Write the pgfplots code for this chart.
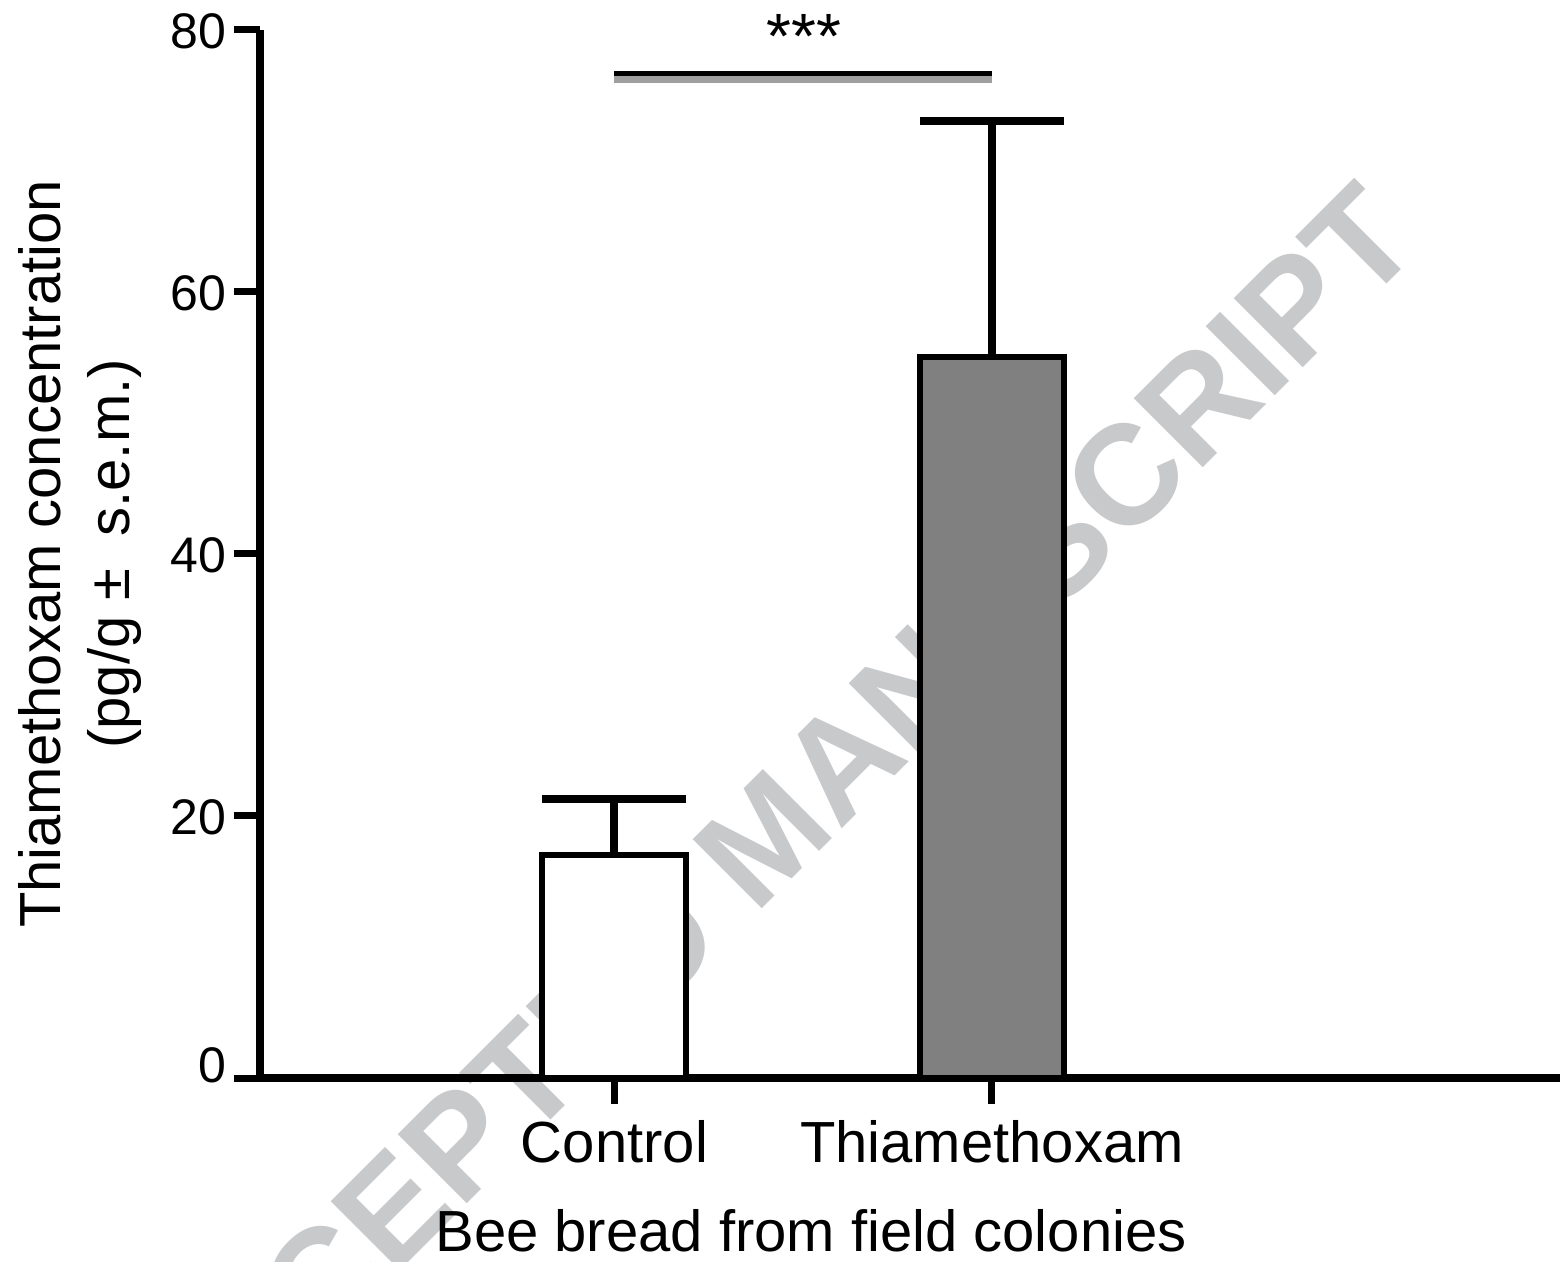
\documentclass[border=0pt]{standalone}
\usepackage{fontspec}
\setmainfont{Liberation Sans}
\usepackage{pgfplots}
\pgfplotsset{compat=1.18}

\definecolor{wmgray}{RGB}{200,201,203}
\definecolor{barfill}{RGB}{128,128,128}

\begin{document}
\begin{tikzpicture}
% watermark, behind everything
\node[rotate=45, inner sep=0pt, text=wmgray,
      font=\fontsize{35.5}{36}\selectfont\bfseries]
  at (126.5pt,60.5pt) {ACCEPTED MANUSCRIPT};

\begin{axis}[
  at={(0pt,0pt)}, anchor=south west,
  width=325pt, height=262pt, scale only axis,
  xmin=-0.939, xmax=2.505, ymin=0, ymax=80,
  clip=false,
  axis x line*=bottom, axis y line*=left,
  axis line style={-, line width=2pt, black},
  tick align=outside,
  major tick length=6.5pt,
  tick style={line width=1.75pt, black},
  xtick={0,1}, xticklabels={Control,Thiamethoxam},
  ytick={0,20,40,60,80},
  yticklabels={\raisebox{3.75pt}{0},20,40,60,80},
  xticklabel style={anchor=base, inner sep=0pt, yshift=-14.5pt,
                    font=\fontsize{14.5}{17}\selectfont},
  yticklabel style={anchor=base east, inner sep=0pt, xshift=-1.75pt, yshift=-4.75pt,
                    font=\fontsize{12.5}{15}\selectfont},
  xlabel={Bee bread from field colonies},
  xlabel style={at={(axis description cs:0.4238,-0.1660)}, anchor=base,
                inner sep=0pt, font=\fontsize{14.5}{17}\selectfont},
  ylabel={Thiamethoxam concentration\\(pg/g ±\ \ s.e.m.)},
  ylabel style={at={(axis description cs:-0.1862,0.5)}, anchor=north,
                inner sep=0pt, align=center,
                font=\fontsize{14.5}{17.25}\selectfont},
]
\addplot[ybar, bar width=36pt, bar shift=0pt, draw=black, fill=white,
  line width=1.5pt,
  error bars/.cd, y dir=plus, y explicit,
  error bar style={line width=2pt, black},
  error mark options={rotate=90, mark size=18pt, line width=2pt, black}]
  coordinates {(0,17.02) +- (0,4.24)};
\addplot[ybar, bar width=36pt, bar shift=0pt, draw=black, fill=barfill,
  line width=1.5pt,
  error bars/.cd, y dir=plus, y explicit,
  error bar style={line width=2pt, black},
  error mark options={rotate=90, mark size=18pt, line width=2pt, black}]
  coordinates {(1,55.0) +- (0,18.05)};

% significance bracket
\addplot[gray!75, line width=1.75pt] coordinates {(0,76.22) (1,76.22)};
\addplot[black, line width=1.25pt] coordinates {(0,76.68) (1,76.68)};
\node[anchor=base, inner sep=0pt, font=\fontsize{16}{18}\selectfont]
  at (axis cs:0.502,77.8) {***};
\end{axis}
\pgfresetboundingbox
\useasboundingbox (-65pt,-45.75pt) rectangle (325pt,269.5pt);
\end{tikzpicture}
\end{document}
